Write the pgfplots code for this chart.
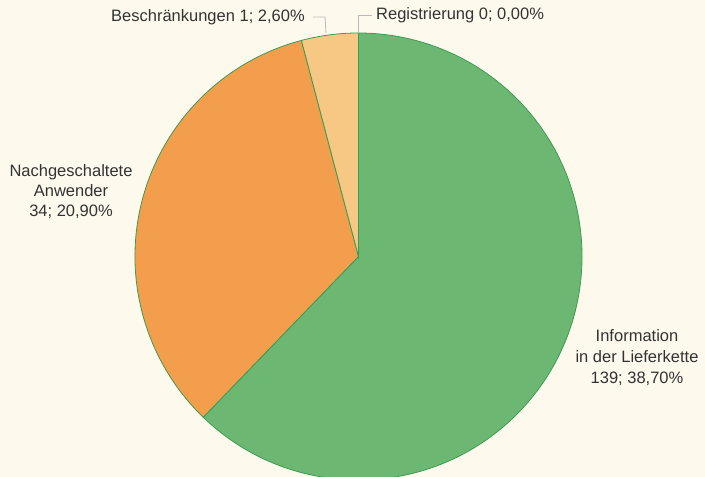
\documentclass[border=0pt]{standalone}
\usepackage{pgfplots}
\usepackage{pgfplotstable}
\pgfplotsset{compat=1.18}
\usepackage{fontspec}
\setmainfont{Liberation Sans}
\definecolor{bg}{RGB}{253,250,237}
\definecolor{cInfo}{RGB}{108,184,115}
\definecolor{cNach}{RGB}{242,158,76}
\definecolor{cBesch}{RGB}{247,199,132}
\definecolor{cReg}{RGB}{247,199,132}
\definecolor{edge}{RGB}{60,155,85}
\definecolor{lead}{RGB}{185,185,185}
% slices: value, percent, start angle, end angle (degrees, as drawn)
\pgfplotstableread{
name  value pct   start  end
Reg   0     0.00  90     90
Besch 1     2.60  90     104.8
Nach  34    20.90 104.8  226
Info  139   38.70 -134   90
}\slices
\pgfplotstablegetelem{1}{start}\of\slices \edef\bS{\pgfplotsretval}
\pgfplotstablegetelem{1}{end}\of\slices \edef\bE{\pgfplotsretval}
\pgfplotstablegetelem{2}{start}\of\slices \edef\nS{\pgfplotsretval}
\pgfplotstablegetelem{2}{end}\of\slices \edef\nE{\pgfplotsretval}
\pgfplotstablegetelem{3}{start}\of\slices \edef\iS{\pgfplotsretval}
\pgfplotstablegetelem{3}{end}\of\slices \edef\iE{\pgfplotsretval}
\begin{document}
\begin{tikzpicture}[x=1bp,y=1bp]
\fill[bg] (0,0) rectangle (705,477);
\begin{axis}[
  at={(0,0)}, anchor=origin,
  x=1bp, y=1bp,
  xmin=0, xmax=705, ymin=0, ymax=477,
  hide axis, clip=true,
]
\addplot[draw=none] coordinates {(0,0) (705,477)};
\fill[cInfo, draw=edge, line width=0.8bp] (axis cs:358.5,220.5) -- ++(\iS:223.5bp) arc[start angle=\iS, end angle=\iE, radius=223.5bp] -- cycle;
\fill[cNach, draw=edge, line width=0.8bp] (axis cs:358.5,220.5) -- ++(\nS:223.5bp) arc[start angle=\nS, end angle=\nE, radius=223.5bp] -- cycle;
\fill[cBesch, draw=edge, line width=0.8bp] (axis cs:358.5,220.5) -- ++(\bS:223.5bp) arc[start angle=\bS, end angle=\bE, radius=223.5bp] -- cycle;
\end{axis}
\draw[lead, line width=0.8bp] (313,460) -- (325,460) -- (326,444);
\draw[lead, line width=0.8bp] (358.5,444) -- (358.5,462) -- (372,462);
\begin{scope}[every node/.style={inner sep=0pt, text=black!80, font=\fontsize{16.5bp}{20bp}\selectfont}]
\node[anchor=base west] at (111,455) {Beschränkungen 1; 2,60\%};
\node[anchor=base west] at (376,457) {Registrierung 0; 0,00\%};
\node[anchor=base] at (71,300.3) {Nachgeschaltete};
\node[anchor=base] at (71,280.3) {Anwender};
\node[anchor=base] at (71,260.3) {34; 20,90\%};
\node[anchor=base] at (637,135.3) {Information};
\node[anchor=base] at (637,114.5) {in der Lieferkette};
\node[anchor=base] at (637,93.7) {139; 38,70\%};
\end{scope}
\end{tikzpicture}
\end{document}
